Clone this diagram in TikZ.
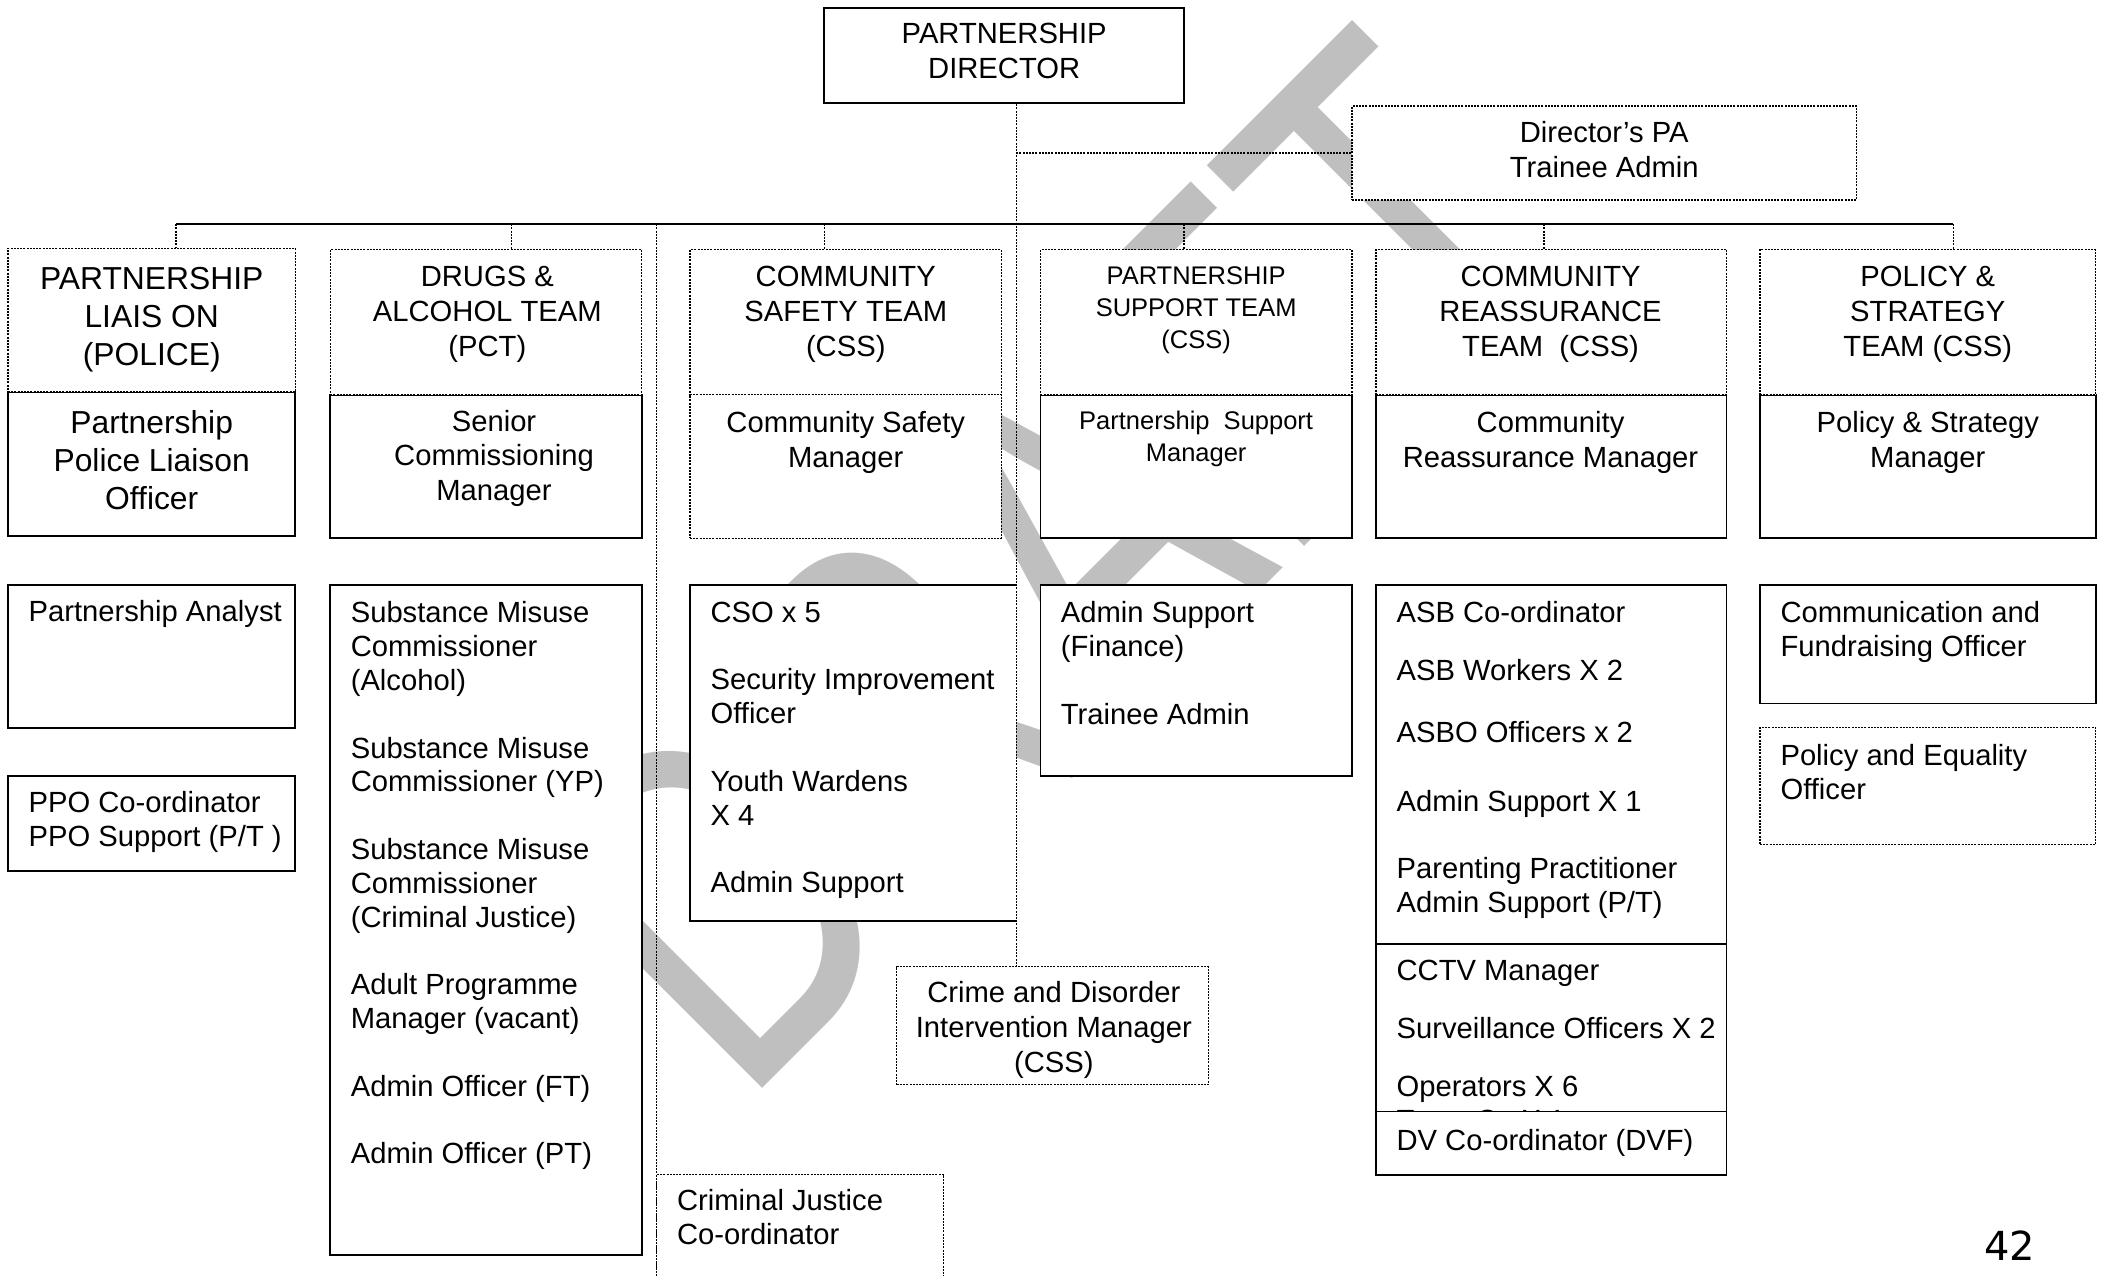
\documentclass[tikz,border=0pt]{standalone}
\usepackage{fontspec}
\setmainfont{Liberation Sans}
\newfontfamily\pagenofont{DejaVu Sans}
\usetikzlibrary{fit}

\newcommand{\txtsize}{\fontsize{14.6}{16.9}\selectfont}
\newcommand{\hdsize}{\fontsize{14.6}{17.4}\selectfont}
\newcommand{\plsize}{\fontsize{15.9}{19.1}\selectfont}
\newcommand{\pstsize}{\fontsize{12.75}{16.1}\selectfont}
\newcommand{\wmsize}{\fontsize{181.7}{181.7}\selectfont}

\tikzset{
  dotline/.style={line width=0.7pt, dash pattern=on 1pt off 0.6pt},
  barline/.style={line width=0.7pt},
  box/.style={draw, fill=white, line width=0.9pt, inner sep=0pt},
  dbox/.style={box, dotline},
  hd/.style={align=center, inner sep=0pt, anchor=north, font=\hdsize},
  lst/.style={align=left, inner sep=0pt, anchor=north west, font=\txtsize},
}

\begin{document}
\begin{tikzpicture}[x=0.67125pt, y=-0.67125pt]
    \useasboundingbox (0,0) rectangle (1568,950);
    \clip (0,0) rectangle (1568,950);

    % Watermark
    \node[text=black!25, font=\wmsize, inner sep=0pt, anchor=base west,
          cm={0.707,0.707,-0.956,0.956,(0,0)}] (draft) at (552,827) {DRAFT};

    % Director and PA
    \node[box, fit={(614,6) (882,77)}] (dir) {};
    \node[hd] (dirt) at (748,17) {PARTNERSHIP\\DIRECTOR};
    \node[dbox, fit={(1007,79) (1383,149)}] (pa) {};
    \node[hd] (pat) at (1195,90) {Director’s PA\\Trainee Admin};

    % Team headers and managers
    \node[box, fit={(6,292) (220,399)}] (plm) {};
    \node[dbox, fit={(6,185) (220,292)}] (plh) {};
    \node[hd, font=\plsize] (plht) at (113,198.5) {PARTNERSHIP\\LIAIS ON\\(POLICE)};
    \node[hd, font=\plsize] (plmt) at (113,305.5) {Partnership\\Police Liaison\\Officer};

    \node[box, fit={(246,294) (478,401)}] (datm) {};
    \node[dbox, fit={(246,186) (478,294)}] (dath) {};
    \node[hd] (datht) at (363,198) {DRUGS \&\\ALCOHOL TEAM\\(PCT)};
    \node[hd] (datmt) at (368,305) {Senior\\Commissioning\\Manager};

    \node[dbox, fit={(514,294) (746,401)}] (cstm) {};
    \node[dbox, fit={(514,186) (746,294)}] (csth) {};
    \node[hd] (cstht) at (630,198) {COMMUNITY\\SAFETY TEAM\\(CSS)};
    \node[hd] (cstmt) at (630,306) {Community Safety\\Manager};

    \node[box, fit={(775,294) (1007,401)}] (pstm) {};
    \node[dbox, fit={(775,186) (1007,294)}] (psth) {};
    \node[hd, font=\pstsize] (pstht) at (891,198) {PARTNERSHIP\\SUPPORT TEAM\\(CSS)};
    \node[hd, font=\pstsize] (pstmt) at (891,306) {Partnership~~Support\\Manager};

    \node[box, fit={(1025,294) (1286,401)}] (crtm) {};
    \node[dbox, fit={(1025,186) (1286,294)}] (crth) {};
    \node[hd] (crtht) at (1155,198) {COMMUNITY\\REASSURANCE\\TEAM~~(CSS)};
    \node[hd] (crtmt) at (1155,306) {Community\\Reassurance Manager};

    \node[box, fit={(1311,294) (1561,401)}] (pasm) {};
    \node[dbox, fit={(1311,186) (1561,294)}] (pash) {};
    \node[hd] (pasht) at (1436,198) {POLICY \&\\STRATEGY\\TEAM (CSS)};
    \node[hd] (pasmt) at (1436,306) {Policy \& Strategy\\Manager};

    % Staff boxes
    \node[box, fit={(6,436) (220,542)}] (an) {};
    \node[lst] (ant) at (21,447) {Partnership Analyst};
    \node[box, fit={(6,578) (220,649)}] (ppo) {};
    \node[lst] (ppot) at (21,589) {PPO Co-ordinator\\PPO Support (P/T )};

    \node[box, fit={(246,436) (478,935)}] (sm) {};
    \node[lst] (smt) at (261,448) {Substance Misuse\\Commissioner\\(Alcohol)\\[16.9pt]
        Substance Misuse\\Commissioner (YP)\\[16.9pt]
        Substance Misuse\\Commissioner\\(Criminal Justice)\\[16.9pt]
        Adult Programme\\Manager (vacant)\\[16.9pt]
        Admin Officer (FT)\\[16.9pt]
        Admin Officer (PT)};

    \node[fill=white, inner sep=0pt, fit={(514,436) (757,686)}] (cso) {};
    \draw[line width=0.9pt] (cso.north east) -- (cso.north west) -- (cso.south west) -- (cso.south east);
    \node[lst] (csot) at (529,448) {CSO x 5\\[16.9pt]
        Security Improvement\\Officer\\[16.9pt]
        Youth Wardens\\X 4\\[16.9pt]
        Admin Support};

    \node[box, fit={(775,436) (1007,578)}] (adm) {};
    \node[lst] (admt) at (790,448) {Admin Support\\(Finance)\\[16.9pt]Trainee Admin};

    \node[box, fit={(1025,436) (1286,703)}] (asb) {};
    \node[lst] (asbt) at (1040,448) {ASB Co-ordinator\\[12pt]
        ASB Workers X 2\\[14pt]
        ASBO Officers x 2\\[17.4pt]
        Admin Support X 1\\[16.8pt]
        Parenting Practitioner\\Admin Support (P/T)};
    \node[box, fit={(1025,703) (1286,828)}] (cctv) {};
    \node[lst] (cctvt) at (1040,715) {CCTV Manager\\[12pt]
        Surveillance Officers X 2\\[12pt]
        Operators X 6\\Team Co X 1};
    \node[box, fit={(1025,828) (1286,875)}] (dv) {};
    \node[lst] (dvt) at (1040,841) {DV Co-ordinator (DVF)};

    \node[box, fit={(1311,436) (1561,524)}] (com) {};
    \node[lst] (comt) at (1326,448) {Communication and\\Fundraising Officer};
    \node[dbox, fit={(1311,542) (1561,629)}] (peo) {};
    \node[lst] (peot) at (1326,554) {Policy and Equality\\Officer};

    \node[dbox, fit={(668,720) (900,808)}] (crime) {};
    \node[hd] (crimet) at (785,731) {Crime and Disorder\\Intervention Manager\\(CSS)};
    \node[dbox, fit={(489,875) (703,990)}] (cj) {};
    \node[lst] (cjt) at (504,886) {Criminal Justice\\Co-ordinator};

    % Bar and drops
    \coordinate (plb) at (131,167);
    \coordinate (datb) at (381,167);
    \coordinate (cjb) at (489,167);
    \coordinate (cstb) at (614,167);
    \coordinate (dirb) at (757,167);
    \coordinate (pstb) at (882,167);
    \coordinate (crtb) at (1150,167);
    \coordinate (pasb) at (1455,167);

    \draw[barline] (plb) -- (pasb);
    \foreach \b/\n in {plb/plh, datb/dath, cstb/csth, pstb/psth, crtb/crth, pasb/pash}
        \draw[dotline] (\b) -- (\b |- \n.north);
    \draw[dotline] (dir.south -| dirb) -- (dirb |- crime.north);
    \draw[dotline] (dirb |- pa.west) -- (pa.west);
    \draw[dotline] (cjb) -- (cjb |- cj.south);

    \node[font=\pagenofont\fontsize{20}{24}\selectfont] (pageno) at (1497,928) {42};
\end{tikzpicture}
\end{document}
